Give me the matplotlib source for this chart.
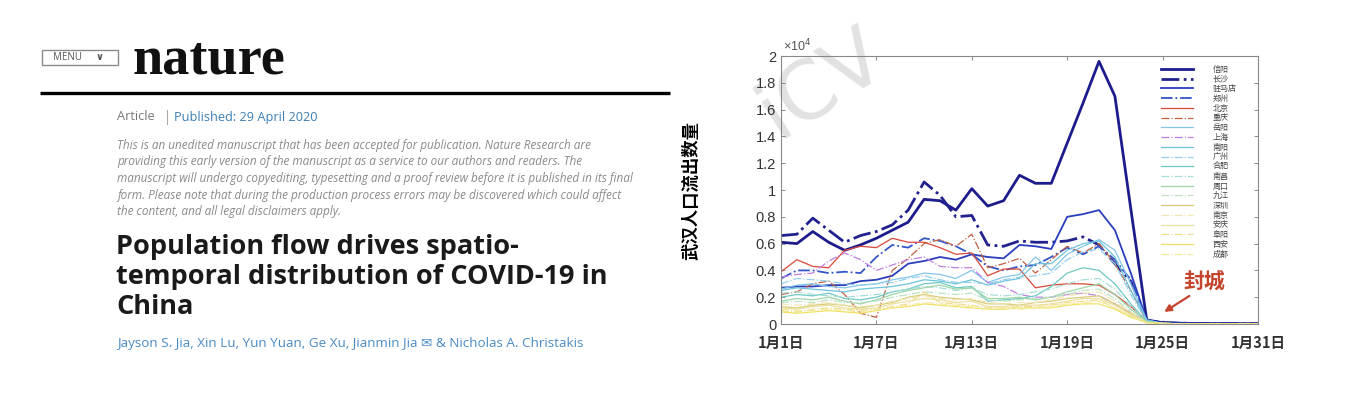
import matplotlib
matplotlib.use("Agg")
import matplotlib.pyplot as plt
from matplotlib.patches import Rectangle
from matplotlib.ticker import FuncFormatter

# ---- chart data (units of 1e4 people), day 1..31 of January ----
days = list(range(1, 32))
tail_big = [0.010, 0.006, 0.004, 0.003, 0.003, 0.002, 0.002]
tail_small = [0.004, 0.002, 0.001, 0.001, 0.001, 0.001, 0.001]

cities = ["信阳", "长沙", "驻马店", "郑州", "北京", "重庆", "岳阳", "上海", "南阳", "广州",
          "合肥", "南昌", "周口", "九江", "深圳", "南京", "安庆", "阜阳", "西安", "成都"]

xinyang = [0.61, 0.60, 0.69, 0.61, 0.55, 0.59, 0.64, 0.70, 0.76, 0.93, 0.92, 0.85, 1.01, 0.88, 0.92,
           1.11, 1.05, 1.05, 1.35, 1.65, 1.96, 1.70, 0.86, 0.03] + tail_big
changsha = [0.66, 0.67, 0.79, 0.70, 0.61, 0.66, 0.69, 0.74, 0.85, 1.06, 0.96, 0.80, 0.81, 0.59, 0.58,
            0.62, 0.61, 0.61, 0.62, 0.65, 0.59, 0.45, 0.32, 0.03] + tail_big
zhumadian = [0.27, 0.28, 0.28, 0.29, 0.29, 0.32, 0.33, 0.36, 0.45, 0.47, 0.50, 0.48, 0.52, 0.50, 0.49,
             0.59, 0.58, 0.56, 0.80, 0.82, 0.85, 0.70, 0.38, 0.03] + tail_big
zhengzhou = [0.34, 0.40, 0.40, 0.38, 0.39, 0.38, 0.50, 0.59, 0.57, 0.64, 0.62, 0.58, 0.52, 0.43, 0.40,
             0.43, 0.44, 0.50, 0.57, 0.52, 0.58, 0.48, 0.33, 0.02] + tail_small
beijing = [0.39, 0.48, 0.43, 0.42, 0.55, 0.58, 0.57, 0.64, 0.61, 0.61, 0.57, 0.52, 0.53, 0.36, 0.41,
           0.41, 0.27, 0.29, 0.30, 0.30, 0.29, 0.22, 0.13, 0.02] + tail_small
chongqing = [0.22, 0.24, 0.30, 0.32, 0.22, 0.08, 0.05, 0.40, 0.49, 0.60, 0.63, 0.58, 0.67, 0.42, 0.45,
             0.49, 0.38, 0.48, 0.58, 0.53, 0.60, 0.45, 0.25, 0.02] + tail_small
yueyang = [0.26, 0.29, 0.30, 0.28, 0.27, 0.29, 0.30, 0.33, 0.35, 0.38, 0.37, 0.34, 0.40, 0.31, 0.35,
           0.37, 0.50, 0.40, 0.52, 0.58, 0.63, 0.55, 0.30, 0.03] + tail_small
shanghai = [0.35, 0.37, 0.38, 0.47, 0.53, 0.48, 0.40, 0.44, 0.48, 0.50, 0.43, 0.42, 0.42, 0.31, 0.28,
            0.22, 0.20, 0.20, 0.22, 0.23, 0.21, 0.15, 0.08, 0.02] + tail_small
nanyang = [0.25, 0.27, 0.26, 0.25, 0.24, 0.26, 0.27, 0.28, 0.30, 0.33, 0.32, 0.30, 0.33, 0.29, 0.32,
           0.34, 0.45, 0.45, 0.55, 0.60, 0.62, 0.50, 0.25, 0.03] + tail_small
guangzhou = [0.30, 0.34, 0.33, 0.32, 0.30, 0.29, 0.30, 0.31, 0.34, 0.36, 0.33, 0.31, 0.31, 0.30, 0.33,
             0.35, 0.36, 0.38, 0.48, 0.54, 0.56, 0.45, 0.22, 0.02] + tail_small
hefei = [0.20, 0.22, 0.21, 0.23, 0.19, 0.18, 0.20, 0.24, 0.26, 0.30, 0.31, 0.27, 0.28, 0.17, 0.18,
         0.19, 0.21, 0.28, 0.38, 0.42, 0.40, 0.30, 0.15, 0.02] + tail_small
nanchang = [0.23, 0.24, 0.22, 0.21, 0.20, 0.21, 0.22, 0.24, 0.26, 0.28, 0.27, 0.25, 0.27, 0.22, 0.21,
            0.22, 0.24, 0.26, 0.30, 0.33, 0.34, 0.26, 0.13, 0.02] + tail_small
zhoukou = [0.17, 0.19, 0.18, 0.20, 0.17, 0.15, 0.18, 0.22, 0.25, 0.27, 0.29, 0.26, 0.27, 0.19, 0.19,
           0.20, 0.18, 0.20, 0.24, 0.27, 0.30, 0.22, 0.11, 0.02] + tail_small
jiujiang = [0.16, 0.17, 0.16, 0.18, 0.16, 0.16, 0.17, 0.20, 0.22, 0.24, 0.23, 0.22, 0.23, 0.18, 0.17,
            0.18, 0.19, 0.20, 0.22, 0.25, 0.26, 0.19, 0.09, 0.01] + tail_small
shenzhen = [0.13, 0.12, 0.14, 0.15, 0.14, 0.12, 0.14, 0.16, 0.20, 0.22, 0.20, 0.19, 0.18, 0.15, 0.15,
            0.14, 0.16, 0.17, 0.19, 0.20, 0.21, 0.15, 0.08, 0.01] + tail_small
nanjing = [0.15, 0.14, 0.15, 0.16, 0.14, 0.13, 0.14, 0.17, 0.19, 0.21, 0.19, 0.18, 0.19, 0.16, 0.15,
           0.16, 0.16, 0.18, 0.21, 0.23, 0.24, 0.17, 0.09, 0.01] + tail_small
anqing = [0.12, 0.11, 0.13, 0.14, 0.12, 0.11, 0.12, 0.15, 0.17, 0.19, 0.18, 0.16, 0.17, 0.13, 0.13,
          0.14, 0.14, 0.15, 0.17, 0.19, 0.19, 0.14, 0.07, 0.01] + tail_small
fuyang = [0.10, 0.09, 0.11, 0.12, 0.11, 0.10, 0.11, 0.13, 0.15, 0.24, 0.16, 0.15, 0.14, 0.12, 0.12,
          0.13, 0.13, 0.14, 0.16, 0.17, 0.18, 0.12, 0.06, 0.01] + tail_small
xian = [0.09, 0.08, 0.09, 0.10, 0.09, 0.08, 0.10, 0.12, 0.13, 0.15, 0.14, 0.13, 0.12, 0.11, 0.11,
        0.12, 0.12, 0.12, 0.14, 0.15, 0.15, 0.11, 0.05, 0.01] + tail_small
chengdu = [0.11, 0.10, 0.10, 0.11, 0.10, 0.09, 0.11, 0.12, 0.14, 0.16, 0.15, 0.14, 0.13, 0.11, 0.12,
           0.11, 0.12, 0.13, 0.15, 0.16, 0.17, 0.12, 0.06, 0.01] + tail_small

series = [xinyang, changsha, zhumadian, zhengzhou, beijing, chongqing, yueyang, shanghai, nanyang,
          guangzhou, hefei, nanchang, zhoukou, jiujiang, shenzhen, nanjing, anqing, fuyang, xian, chengdu]

colors = ["#1c1c8c", "#22228e", "#2a3dbd", "#3456c8", "#d9473a", "#c2603f", "#86c6ea", "#c17fe0",
          "#6cc4dc", "#94d0ec", "#6fc9c2", "#a9ddd8", "#9fd6a8", "#bde3c4", "#d8cc7c", "#f0e6b0",
          "#ece0a0", "#efdf8e", "#f0e266", "#f4eba2"]
widths = [2.0, 2.0, 1.3, 1.3] + [0.9] * 16

xtick_days = [1, 7, 13, 19, 25, 31]
xtick_labels = ["1月1日", "1月7日", "1月13日", "1月19日", "1月25日", "1月31日"]
yticks = [0, 0.2, 0.4, 0.6, 0.8, 1, 1.2, 1.4, 1.6, 1.8, 2]

W, H = 1370, 400
fig = plt.figure(figsize=(W / 100, H / 100), dpi=100)
fig.patch.set_facecolor("white")

# ---- left panel: article header, drawn in pixel coordinates ----
bg = fig.add_axes([0, 0, 1, 1])
bg.set_xlim(0, W)
bg.set_ylim(H, 0)
bg.axis("off")

sans = ["Open Sans", "DejaVu Sans"]

bg.add_patch(Rectangle((42, 50), 76, 15, fill=False, ec="#8a8a8a", lw=1.0))
bg.text(53, 58, "MENU", fontsize=7, color="#555555", va="center", family="Open Sans")
bg.text(96, 56.5, "∨", fontsize=7, color="#555555", va="center", family="DejaVu Sans",
        fontweight="bold")
bg.text(133, 74, "nature", fontsize=39, fontweight="bold", family="Liberation Serif",
        color="#111111", va="baseline")
bg.plot([40, 670], [93, 93], color="black", lw=2.4, solid_capstyle="butt")

bg.text(117, 117, "Article", fontsize=9.2, color="#777777", va="center", family="Open Sans")
bg.plot([167, 167], [110, 124], color="#aaaaaa", lw=0.8)
bg.text(174, 117, "Published: 29 April 2020", fontsize=9.2, color="#3d7fb5", va="center",
        family="Open Sans")

para = ["This is an unedited manuscript that has been accepted for publication. Nature Research are",
        "providing this early version of the manuscript as a service to our authors and readers. The",
        "manuscript will undergo copyediting, typesetting and a proof review before it is published in its final",
        "form. Please note that during the production process errors may be discovered which could affect",
        "the content, and all legal disclaimers apply."]
for i, line in enumerate(para):
    bg.text(117, 145 + i * 16.75, line, fontsize=8.5, style="italic", color="#8a8a8a",
            va="center", family="Open Sans")

title = ["Population flow drives spatio-", "temporal distribution of COVID-19 in", "China"]
for i, line in enumerate(title):
    bg.text(116, 247 + i * 30, line, fontsize=19.5, fontweight="bold", color="#1a1a1a",
            va="center", family="Open Sans")

bg.text(117, 343, "Jayson S. Jia, Xin Lu, Yun Yuan, Ge Xu, Jianmin Jia ✉ & Nicholas A. Christakis",
        fontsize=9.7, color="#4a8cc6", va="center", family=sans)

# faint watermark over the chart corner
bg.text(822, 84, "iCV", fontsize=58, color="#e2e2e2", rotation=33,
        ha="center", va="center", family="DejaVu Sans", zorder=0)

# ---- right panel: line chart ----
ax = fig.add_axes([781 / W, 1 - 324 / H, 477 / W, 268 / H])
ax.patch.set_alpha(0)
for name, vals, c, lw, i in zip(cities, series, colors, widths, range(len(cities))):
    ls = "-" if i % 2 == 0 else "-."
    ax.plot(days, vals, color=c, lw=lw, ls=ls, label=name)

ax.set_xlim(1, 31)
ax.set_ylim(0, 2)
ax.set_xticks(xtick_days)
ax.set_xticklabels(xtick_labels, family="Noto Sans CJK SC", fontweight="bold", fontsize=11.5)
ax.set_yticks(yticks)
ax.yaxis.set_major_formatter(FuncFormatter(lambda v, p: "%g" % v))
ax.tick_params(direction="in", length=3, width=0.6, color="#777777", top=True, right=True,
               labelsize=10.5, labelcolor="#333333")
ax.tick_params(axis="x", pad=8)
for lab in ax.get_yticklabels():
    lab.set_family("Liberation Sans")
for s in ax.spines.values():
    s.set_color("#888888")
    s.set_linewidth(0.8)

ax.set_ylabel("武汉人口流出数量", family="Noto Sans CJK SC", fontsize=12.5, fontweight="bold")
ax.yaxis.set_label_coords(-0.17, 0.5)
ax.text(0.005, 1.005, "×10$^4$", transform=ax.transAxes, fontsize=9, color="#555555",
        va="bottom", family="Liberation Sans")

ax.annotate("封城", xy=(25.1, 0.09), xytext=(26.3, 0.23), fontsize=15, fontweight="bold",
            color="#c4452c", family="Noto Sans CJK SC", ha="left", va="bottom",
            arrowprops=dict(arrowstyle="-|>", color="#c4452c", lw=1.6, mutation_scale=10,
                            shrinkA=0, shrinkB=0, relpos=(0.25, 0)))

leg = ax.legend(loc="upper right", bbox_to_anchor=(0.965, 0.985), frameon=False,
                prop={"family": "Noto Sans CJK SC", "size": 5.8}, handlelength=4.0,
                labelspacing=0.09, handletextpad=2.4, borderaxespad=0.2)
for t in leg.get_texts():
    t.set_color("#444444")

fig.savefig("out.png", dpi=100, facecolor="white")
